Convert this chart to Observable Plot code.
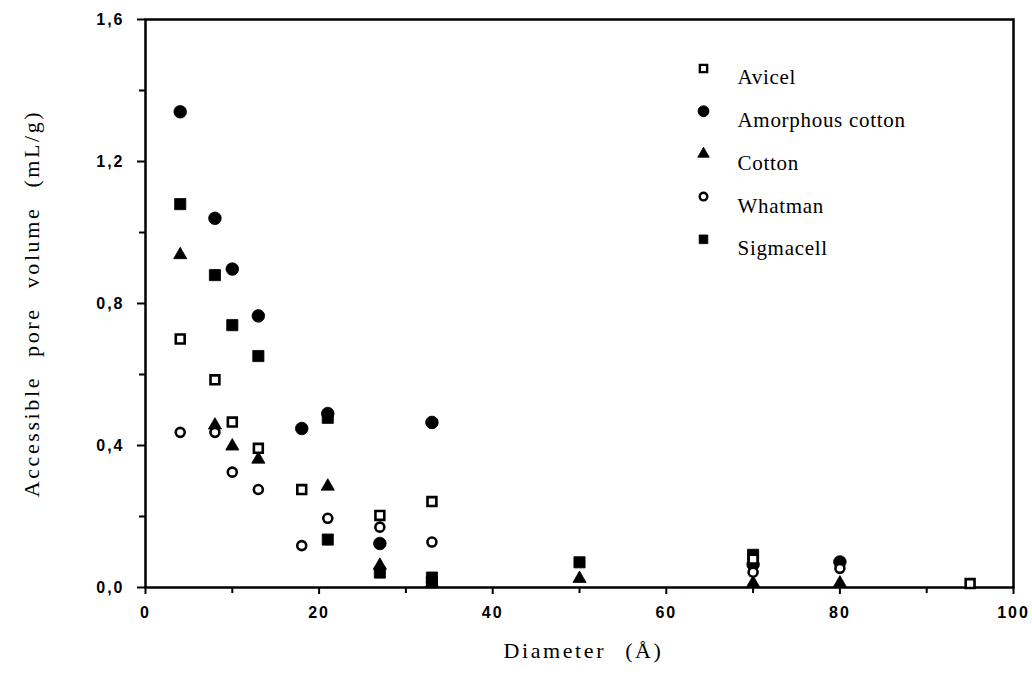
<!DOCTYPE html>
<html>
<head>
<meta charset="utf-8">
<script src="https://cdn.jsdelivr.net/npm/d3@7"></script>
<script src="https://cdn.jsdelivr.net/npm/@observablehq/plot@0.6"></script>
<style>
  html, body { margin: 0; padding: 0; background: #fff; }
</style>
</head>
<body>
<div id="chart"></div>
<script>
// ---- data ----
const seriesNames = ["Avicel", "Amorphous cotton", "Cotton", "Whatman", "Sigmacell"];

const avicelX  = [4, 8, 10, 13, 18, 27, 33, 70, 95];
const avicelY  = [0.70, 0.585, 0.466, 0.392, 0.276, 0.203, 0.242, 0.08, 0.011];

const amorphX  = [4, 8, 10, 13, 18, 21, 27, 33, 70, 80];
const amorphY  = [1.34, 1.04, 0.897, 0.765, 0.448, 0.49, 0.124, 0.465, 0.065, 0.072];

const cottonX  = [4, 8, 10, 13, 21, 27, 33, 50, 70, 80];
const cottonY  = [0.937, 0.457, 0.398, 0.361, 0.285, 0.062, 0.012, 0.025, 0.012, 0.012];

const whatmanX = [4, 8, 10, 13, 18, 21, 27, 33, 70, 80];
const whatmanY = [0.437, 0.437, 0.325, 0.276, 0.118, 0.195, 0.17, 0.128, 0.043, 0.054];

const sigmaX   = [4, 8, 10, 13, 21, 21, 27, 33, 33, 50, 70];
const sigmaY   = [1.08, 0.88, 0.739, 0.652, 0.478, 0.135, 0.042, 0.028, 0.015, 0.071, 0.092];

const xTicks = [0, 20, 40, 60, 80, 100];
const xMinor = [10, 30, 50, 70, 90];
const yTicks = [0, 0.4, 0.8, 1.2, 1.6];
const yMinor = [0.2, 0.6, 1.0, 1.4];

const xTitle = "Diameter (Å)";
const yTitle = "Accessible pore volume (mL/g)";

// ---- build tables ----
const toRows = (xs, ys) => xs.map((x, i) => ({x, y: ys[i]}));
const avicel  = toRows(avicelX, avicelY);
const amorph  = toRows(amorphX, amorphY);
const cotton  = toRows(cottonX, cottonY);
const whatman = toRows(whatmanX, whatmanY);
const sigma   = toRows(sigmaX, sigmaY);

// marker styles per series
const styles = {
  "Avicel":           {symbol: "square",   fill: "white", stroke: "black", strokeWidth: 2.6, r: 5.0, lr: 4.1},
  "Amorphous cotton": {symbol: "circle",   fill: "black", stroke: "black", strokeWidth: 0.8, r: 6.3, lr: 5.5},
  "Cotton":           {symbol: "triangle", fill: "black", stroke: "black", strokeWidth: 0.8, r: 4.9, lr: 4.3},
  "Whatman":          {symbol: "circle",   fill: "white", stroke: "black", strokeWidth: 2.6, r: 4.5, lr: 3.8},
  "Sigmacell":        {symbol: "square",   fill: "black", stroke: "black", strokeWidth: 0.8, r: 6.3, lr: 4.9}
};

const tickFont = {fontFamily: "Liberation Sans, Arial, sans-serif", fontSize: 16, fontWeight: "bold"};
const serif = "Liberation Serif, Times New Roman, serif";
const fmt = d => d.toFixed(1).replace(".", ",");

const dotMark = (data, name) => {
  const s = styles[name];
  return Plot.dot(data, {x: "x", y: "y", symbol: () => s.symbol, r: s.r,
    fill: s.fill, stroke: s.stroke, strokeWidth: s.strokeWidth});
};

// legend marks (positioned relative to the frame)
const legendMarks = seriesNames.flatMap((name, i) => {
  const s = styles[name];
  return [
    Plot.dot([name], {frameAnchor: "top-left", dx: 558, dy: 49 + i * 42.7,
      symbol: () => s.symbol, r: s.lr, fill: s.fill, stroke: s.stroke,
      strokeWidth: s.strokeWidth === 0.8 ? 0.8 : 2.4}),
    Plot.text([name], {frameAnchor: "top-left", dx: 592, dy: 50 + i * 42.7,
      text: d => d, textAnchor: "start", fontFamily: serif, fontSize: 21,
      fill: "black", className: "legend-text"})
  ];
});

const chart = Plot.plot({
  width: 1032,
  height: 689,
  marginLeft: 145,
  marginRight: 19,
  marginTop: 19,
  marginBottom: 102,
  style: {background: "white", color: "black"},
  x: {domain: [0, 100]},
  y: {domain: [0, 1.6]},
  symbol: {type: "identity"},
  marks: [
    Plot.frame({stroke: "black", strokeWidth: 2.5}),
    Plot.axisY({ticks: yTicks, tickFormat: fmt, tickSize: 8, tickPadding: 13, label: null,
      strokeWidth: 2, ...tickFont}),
    Plot.axisY({ticks: yMinor, tickFormat: () => "", tickSize: 6, label: null, strokeWidth: 2}),
    Plot.axisX({ticks: xTicks, tickFormat: d => String(d), tickSize: 7, tickPadding: 12, label: null,
      strokeWidth: 2, ...tickFont}),
    Plot.axisX({ticks: xMinor, tickFormat: () => "", tickSize: 6, label: null, strokeWidth: 2}),
    Plot.text([yTitle], {frameAnchor: "left", dx: -114, rotate: -90, text: d => d,
      textAnchor: "middle", fontFamily: serif, fontSize: 22, fill: "black", className: "axis-title"}),
    Plot.text([xTitle], {frameAnchor: "bottom", dx: 4, dy: 70, text: d => d,
      textAnchor: "middle", fontFamily: serif, fontSize: 22, fill: "black", className: "axis-title"}),
    dotMark(amorph, "Amorphous cotton"),
    dotMark(sigma, "Sigmacell"),
    dotMark(cotton, "Cotton"),
    dotMark(avicel, "Avicel"),
    dotMark(whatman, "Whatman"),
    ...legendMarks
  ]
});

// spacing tweaks on the text to mimic the spacing of the original
d3.select(chart).selectAll(".axis-title text").style("word-spacing", "11px").style("letter-spacing", "2.6px");
d3.select(chart).selectAll(".legend-text text").style("letter-spacing", "0.7px");
d3.select(chart).selectAll("g[aria-label='y-axis tick label'] text, g[aria-label='x-axis tick label'] text")
  .style("letter-spacing", "2px");

document.getElementById("chart").appendChild(chart);
</script>
</body>
</html>
